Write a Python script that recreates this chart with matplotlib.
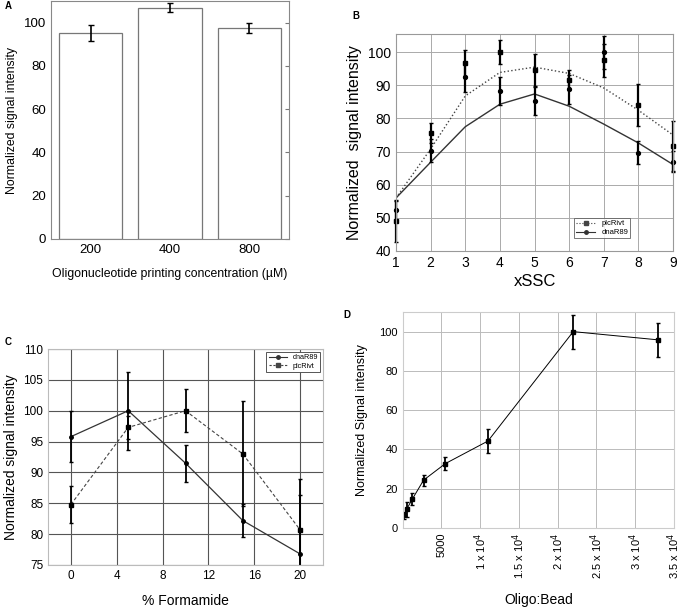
import numpy as np
import matplotlib
matplotlib.use("Agg")
import matplotlib.pyplot as plt
from matplotlib.lines import Line2D

plt.rcParams['font.family'] = ['Liberation Sans', 'DejaVu Sans']

# panel A
conc_labels = ["200", "400", "800"]
conc_signal = [95.2, 107.0, 97.6]
conc_err = [3.6, 2.0, 2.2]

# panel B
ssc = [1, 2, 3, 4, 5, 6, 7, 8, 9]
plc_ssc = [49.0, 75.5, 96.7, 100.0, 94.7, 91.7, 97.5, 84.0, 71.7]
plc_ssc_err = [6.2, 3.0, 4.0, 3.7, 4.9, 3.0, 5.0, 6.4, 7.6]
dna_ssc = [52.3, 70.3, 92.5, 88.2, 85.3, 88.8, 100.0, 69.7, 67.0]
dna_ssc_err = [3.0, 3.5, 4.5, 4.2, 4.3, 4.4, 5.0, 3.4, 3.3]
plc_fit = [56.0, 70.8, 86.8, 93.9, 95.5, 93.6, 89.2, 82.5, 75.0]
dna_fit = [56.0, 66.8, 77.5, 84.3, 87.4, 83.7, 78.3, 72.6, 66.1]

# panel C
formamide = [0, 5, 10, 15, 20]
dna_form = [95.8, 100.0, 91.5, 82.2, 76.8]
dna_form_err = [4.1, 6.3, 3.0, 2.7, 9.5]
plc_form = [84.8, 97.3, 100.0, 93.0, 80.7]
plc_form_err = [3.0, 1.9, 3.5, 8.5, 8.3]

# panel D
ratio = [200, 500, 1250, 2700, 5500, 11000, 22000, 33000]
ratio_signal = [6.5, 9.5, 14.8, 24.4, 32.8, 44.3, 100.0, 95.8]
ratio_err = [1.8, 4.0, 3.0, 2.8, 3.2, 6.3, 8.7, 8.5]
ratio_ticks = [5000, 10000, 15000, 20000, 25000, 30000, 35000]
ratio_ticklabels = ["5000", r"1 x 10$^{4}$", r"1.5 x 10$^{4}$", r"2 x 10$^{4}$",
                    r"2.5 x 10$^{4}$", r"3 x 10$^{4}$", r"3.5 x 10$^{4}$"]

fig = plt.figure(figsize=(6.83, 6.07), dpi=100)

# ---- A
axA = fig.add_axes([0.0747, 0.6063, 0.3483, 0.392])
xA = np.arange(len(conc_labels))
axA.bar(xA, conc_signal, width=0.8, color="white", edgecolor="#777777", linewidth=0.9)
axA.errorbar(xA, conc_signal, yerr=conc_err, fmt="none", ecolor="black", elinewidth=1.2, capsize=2.5)
axA.set_xlim(-0.5, 2.5)
axA.set_ylim(0, 110)
axA.set_yticks([0, 20, 40, 60, 80, 100])
axA.set_xticks(xA)
axA.set_xticklabels(conc_labels)
axA.tick_params(axis="both", labelsize=9.5, length=0)
axA.tick_params(axis="y", right=True, length=3, direction="in", color="#777777", left=False)
for s in axA.spines.values():
    s.set_color("#888888")
axA.set_ylabel("Normalized signal intensity", fontsize=8.8, labelpad=4)
axA.set_xlabel("Oligonucleotide printing concentration (\u00b5M)", fontsize=8.8, labelpad=9)
fig.text(0.007, 0.985, "A", fontsize=7, fontweight="bold")

# ---- B
axB = fig.add_axes([0.5798, 0.5865, 0.4056, 0.3575])
axB.plot(ssc, plc_fit, color="#444444", linestyle=":", linewidth=1.0)
axB.plot(ssc, dna_fit, color="#333333", linestyle="-", linewidth=1.0)
ebB1 = axB.errorbar(ssc, plc_ssc, yerr=plc_ssc_err, fmt="s", color="black", ms=3.5,
                    elinewidth=1.6, capsize=1.5)
ebB2 = axB.errorbar(ssc, dna_ssc, yerr=dna_ssc_err, fmt="o", color="black", ms=2.8,
                    elinewidth=1.6, capsize=1.5)
for eb in (ebB1, ebB2):
    for art in eb.lines[0:1] + eb.lines[1] + eb.lines[2]:
        art.set_clip_on(False)
axB.set_xlim(1, 9)
axB.set_ylim(40, 105.5)
axB.set_xticks(ssc)
axB.set_yticks([40, 50, 60, 70, 80, 90, 100])
axB.grid(True, color="#aaaaaa", linewidth=0.7)
axB.tick_params(labelsize=10, length=0)
for s in axB.spines.values():
    s.set_color("#999999")
axB.set_ylabel("Normalized  signal intensity", fontsize=11.5, labelpad=4)
axB.set_xlabel("xSSC", fontsize=12, labelpad=3)
hB = [Line2D([], [], color="#444444", linestyle=":", marker="s", ms=3, lw=0.8),
      Line2D([], [], color="#333333", linestyle="-", marker="o", ms=2.5, lw=0.8)]
legB = axB.legend(hB, ["plcRivt", "dnaR89"], loc="lower right", bbox_to_anchor=(0.86, 0.04),
                  fontsize=5.5, frameon=True, fancybox=False, handlelength=2.5,
                  borderpad=0.3, labelspacing=0.2)
legB.get_frame().set_edgecolor("#555555")
legB.get_frame().set_linewidth(0.7)
fig.text(0.516, 0.968, "B", fontsize=7, fontweight="bold")

# ---- C
axC = fig.add_axes([0.0703, 0.0692, 0.4026, 0.3558])
axC.plot(formamide, dna_form, color="#333333", linestyle="-", linewidth=0.9)
axC.plot(formamide, plc_form, color="#444444", linestyle="--", linewidth=0.8, dashes=(3, 2))
axC.errorbar(formamide, dna_form, yerr=dna_form_err, fmt="o", color="black", ms=2.5,
             elinewidth=1.3, capsize=1.5)
axC.errorbar(formamide, plc_form, yerr=plc_form_err, fmt="s", color="black", ms=3.5,
             elinewidth=1.3, capsize=1.5)
axC.set_xlim(-2, 22)
axC.set_ylim(75, 110)
axC.set_xticks([0, 4, 8, 12, 16, 20])
axC.set_yticks([75, 80, 85, 90, 95, 100, 105, 110])
axC.grid(True, color="#555555", linewidth=0.8)
axC.tick_params(labelsize=8.5, length=0)
for s in axC.spines.values():
    s.set_color("#bbbbbb")
axC.set_ylabel("Normalized signal intensity", fontsize=10, labelpad=4)
axC.set_xlabel("% Formamide", fontsize=10, labelpad=9)
hC = [Line2D([], [], color="#333333", linestyle="-", marker="o", ms=2.5, lw=0.8),
      Line2D([], [], color="#444444", linestyle="--", marker="s", ms=3, lw=0.8, dashes=(2, 1.5))]
legC = axC.legend(hC, ["dnaR89", "plcRivt"], loc="upper right", fontsize=5.2, frameon=True,
                  fancybox=False, framealpha=1, handlelength=2.5, borderpad=0.3,
                  labelspacing=0.2, borderaxespad=0.4)
legC.get_frame().set_edgecolor("#555555")
legC.get_frame().set_linewidth(0.7)
fig.text(0.007, 0.432, "C", fontsize=7, fontweight="bold")

# ---- D
axD = fig.add_axes([0.5896, 0.1301, 0.3972, 0.3559])
axD.errorbar(ratio, ratio_signal, yerr=ratio_err, fmt="s-", color="black", ms=2.2,
             lw=0.7, elinewidth=1.3, capsize=1.5)
axD.set_xlim(0, 35000)
axD.set_ylim(0, 110)
axD.set_yticks([0, 20, 40, 60, 80, 100])
axD.set_xticks(ratio_ticks)
axD.set_xticklabels(ratio_ticklabels, rotation=90)
axD.grid(True, color="#bbbbbb", linewidth=0.7)
axD.tick_params(labelsize=8, length=0)
for s in axD.spines.values():
    s.set_color("#cccccc")
axD.set_ylabel("Normalized Signal intensity", fontsize=9, labelpad=8)
axD.set_xlabel("Oligo:Bead", fontsize=10, labelpad=10)
fig.text(0.503, 0.476, "D", fontsize=7, fontweight="bold")

fig.savefig("out.png", dpi=100)
